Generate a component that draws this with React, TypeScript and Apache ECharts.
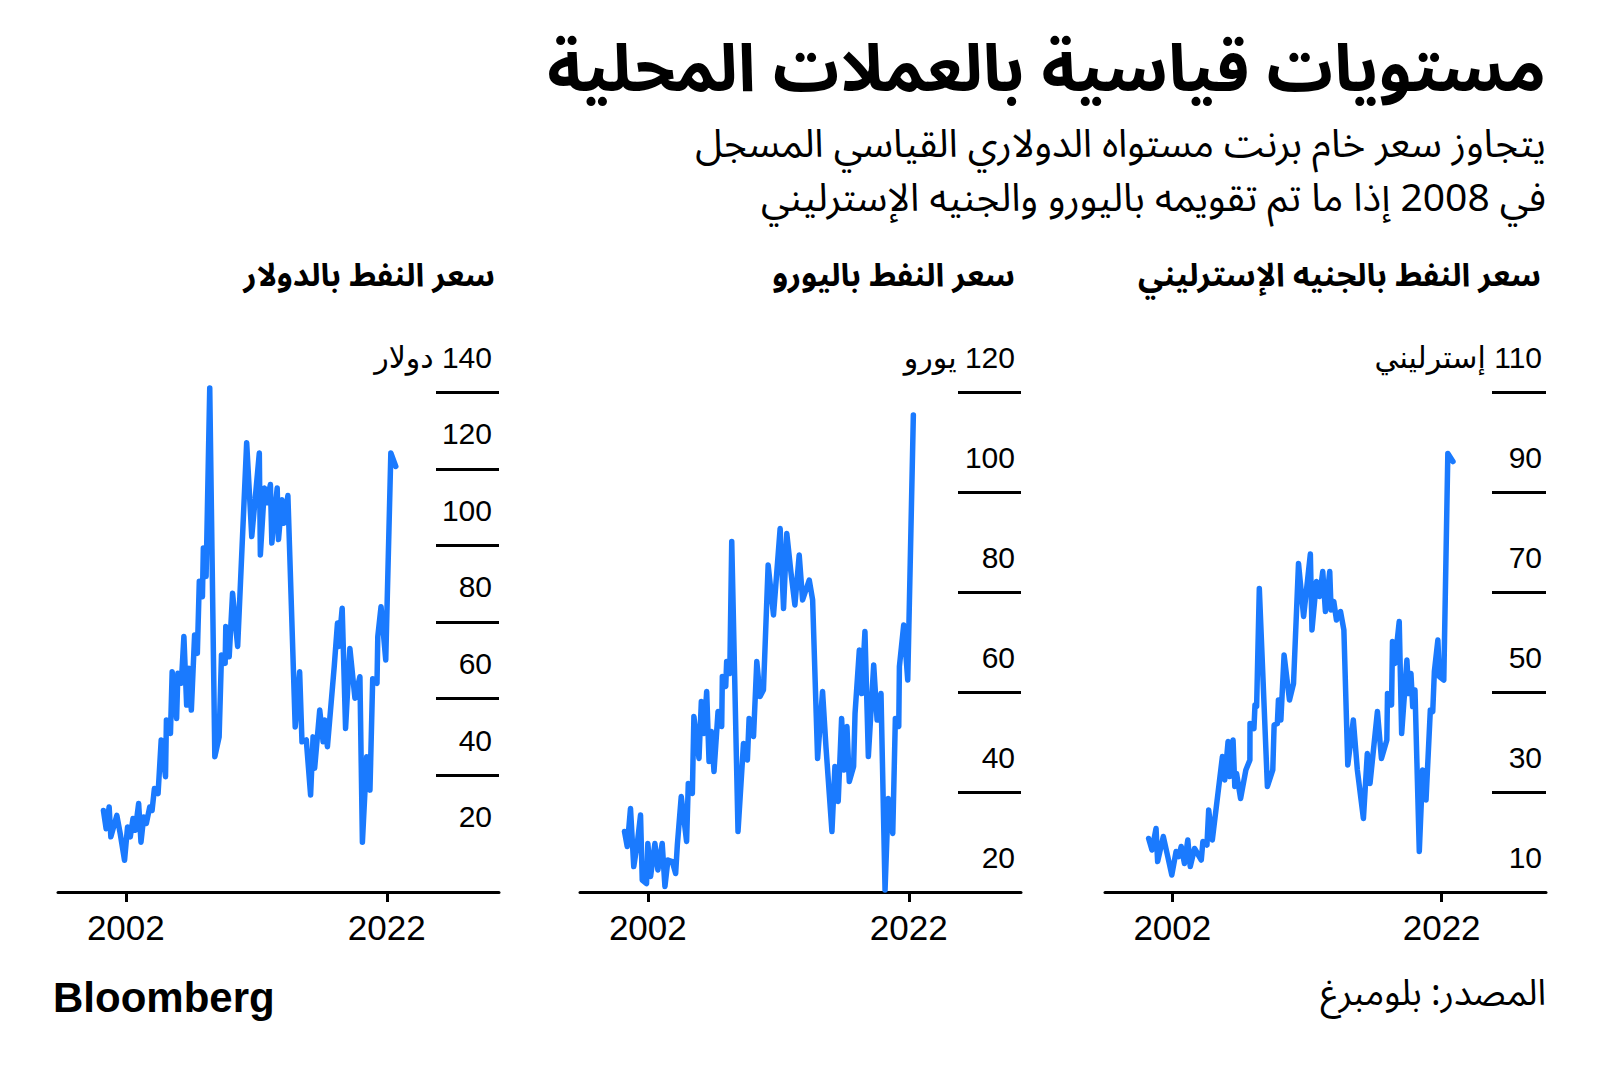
import React, { useEffect, useRef } from 'react';
import * as echarts from 'echarts';

// ---- Data ----
const usdYears = [2000.28, 2000.49, 2000.72, 2000.85, 2001.31, 2001.57, 2001.9, 2002.13, 2002.34, 2002.55, 2002.72, 2002.98, 2003.16, 2003.37, 2003.57, 2003.83, 2004.01, 2004.19, 2004.47, 2004.71, 2005.04, 2005.11, 2005.42, 2005.55, 2005.89, 2005.99, 2006.25, 2006.45, 2006.66, 2006.83, 2007.02, 2007.27, 2007.48, 2007.63, 2007.87, 2007.94, 2008.15, 2008.43, 2008.82, 2009.15, 2009.33, 2009.61, 2009.66, 2009.92, 2010.18, 2010.57, 2011.26, 2011.65, 2012.23, 2012.31, 2012.62, 2012.8, 2013.08, 2013.19, 2013.6, 2013.7, 2013.96, 2014.11, 2014.42, 2014.98, 2015.32, 2015.5, 2015.83, 2016.16, 2016.35, 2016.47, 2016.86, 2017.12, 2017.24, 2017.45, 2017.97, 2018.22, 2018.32, 2018.58, 2018.84, 2019.17, 2019.56, 2019.94, 2020.13, 2020.46, 2020.71, 2020.92, 2021.25, 2021.31, 2021.56, 2021.92, 2022.31, 2022.69];
const usdValues = [30.8, 26.0, 31.7, 23.9, 29.5, 24.7, 17.8, 26.5, 23.9, 28.7, 25.6, 32.6, 22.5, 29.1, 27.4, 31.7, 30.8, 36.5, 35.2, 49.2, 39.6, 54.4, 50.9, 67.0, 54.8, 66.6, 64.0, 76.2, 58.3, 67.9, 57.0, 76.6, 71.8, 90.6, 86.6, 99.3, 91.9, 141.1, 44.8, 50.0, 71.4, 69.2, 78.8, 70.9, 87.5, 73.6, 126.8, 102.3, 124.1, 97.5, 115.0, 111.1, 115.9, 100.6, 115.0, 101.5, 111.9, 105.8, 113.0, 52.6, 67.0, 48.7, 49.2, 34.8, 50.0, 41.8, 57.0, 48.7, 54.4, 47.4, 68.3, 79.7, 73.6, 83.6, 52.2, 73.1, 60.1, 65.7, 22.5, 44.8, 36.1, 65.2, 64.0, 76.2, 84.0, 70.1, 124.1, 120.6];

const eurYears = [2000.21, 2000.42, 2000.67, 2000.92, 2001.19, 2001.44, 2001.57, 2001.9, 2002.0, 2002.21, 2002.54, 2002.77, 2003.1, 2003.31, 2003.54, 2003.87, 2004.13, 2004.26, 2004.56, 2004.97, 2005.1, 2005.41, 2005.53, 2005.92, 2006.1, 2006.3, 2006.51, 2006.69, 2006.87, 2007.07, 2007.38, 2007.66, 2007.71, 2007.97, 2008.04, 2008.28, 2008.43, 2008.91, 2009.33, 2009.63, 2009.76, 2010.1, 2010.35, 2010.6, 2010.86, 2011.22, 2011.63, 2012.14, 2012.4, 2012.65, 2012.96, 2013.27, 2013.6, 2013.86, 2014.37, 2014.63, 2015.01, 2015.39, 2015.65, 2016.11, 2016.34, 2016.59, 2016.85, 2017.05, 2017.26, 2017.44, 2017.77, 2017.88, 2018.21, 2018.39, 2018.64, 2018.9, 2019.31, 2019.57, 2019.87, 2020.18, 2020.43, 2020.77, 2020.97, 2021.23, 2021.28, 2021.61, 2021.92, 2022.35];
const eurValues = [32.1, 29.1, 36.7, 25.1, 29.7, 35.4, 22.4, 21.7, 29.7, 23.1, 29.7, 24.4, 29.7, 21.1, 26.4, 26.1, 23.7, 29.4, 39.1, 30.1, 41.7, 39.7, 55.1, 46.7, 58.1, 51.7, 60.1, 46.1, 52.1, 44.1, 56.1, 53.1, 63.1, 61.1, 66.1, 63.7, 90.1, 32.1, 49.7, 46.4, 54.7, 51.1, 66.1, 59.1, 60.4, 85.4, 75.4, 92.7, 76.7, 91.7, 84.1, 77.4, 87.4, 78.4, 82.4, 78.4, 46.7, 60.1, 49.1, 32.1, 45.1, 38.1, 54.7, 44.4, 53.1, 42.1, 45.1, 55.7, 68.4, 59.7, 72.1, 47.1, 65.4, 54.4, 59.7, 20.4, 38.7, 31.7, 54.7, 53.1, 65.1, 73.4, 62.4, 115.4];

const gbpYears = [2000.24, 2000.49, 2000.79, 2000.91, 2001.33, 2001.66, 2001.96, 2002.28, 2002.48, 2002.66, 2002.9, 2003.15, 2003.33, 2003.65, 2004.15, 2004.27, 2004.57, 2004.7, 2004.97, 2005.72, 2005.89, 2006.14, 2006.27, 2006.51, 2006.64, 2006.77, 2007.07, 2007.46, 2007.76, 2007.77, 2008.06, 2008.14, 2008.26, 2008.46, 2009.06, 2009.46, 2009.56, 2009.8, 2009.88, 2010.06, 2010.3, 2010.7, 2011.0, 2011.37, 2011.75, 2012.25, 2012.37, 2012.7, 2012.94, 2013.17, 2013.37, 2013.69, 2013.79, 2013.99, 2014.19, 2014.49, 2014.74, 2015.03, 2015.44, 2015.74, 2016.19, 2016.48, 2016.68, 2017.23, 2017.53, 2017.93, 2017.98, 2018.28, 2018.35, 2018.52, 2018.85, 2019.03, 2019.42, 2019.55, 2019.72, 2019.85, 2020.02, 2020.34, 2020.59, 2020.84, 2021.16, 2021.34, 2021.46, 2021.72, 2021.83, 2022.16, 2022.46, 2022.84];
const gbpValues = [20.7, 18.4, 22.7, 16.1, 21.1, 17.1, 13.4, 18.1, 17.1, 19.1, 15.7, 20.4, 15.1, 18.7, 16.4, 20.1, 19.4, 26.4, 20.4, 37.1, 32.4, 40.1, 33.1, 40.4, 31.1, 33.7, 28.7, 34.4, 36.4, 43.7, 42.7, 47.4, 47.1, 70.7, 31.1, 34.4, 43.4, 43.7, 48.4, 44.4, 57.4, 48.4, 51.7, 75.7, 65.1, 77.6, 62.4, 72.1, 69.1, 74.1, 66.1, 74.1, 66.4, 68.1, 64.4, 66.1, 62.4, 35.4, 44.4, 34.4, 24.7, 37.7, 31.7, 46.1, 36.7, 40.4, 49.7, 47.4, 60.1, 55.7, 64.1, 41.7, 56.4, 49.7, 53.7, 47.1, 50.4, 18.1, 34.4, 28.4, 46.4, 46.1, 54.1, 60.4, 53.1, 52.4, 97.7, 96.1];

const usdTickLabels = [20, 40, 60, 80, 100, 120, 140];
const usdTickLines = [40, 60, 80, 100, 120, 140];
const eurTickLabels = [20, 40, 60, 80, 100, 120];
const eurTickLines = [40, 60, 80, 100, 120];
const gbpTickLabels = [10, 30, 50, 70, 90, 110];
const gbpTickLines = [30, 50, 70, 90, 110];
const yearLabels = [2002, 2022];

const titleText = 'مستويات قياسية بالعملات المحلية';
const subtitleLines = [
  'يتجاوز سعر خام برنت مستواه الدولاري القياسي المسجل',
  'في 2008 إذا ما تم تقويمه باليورو والجنيه الإسترليني',
];
const panelTitles = ['سعر النفط بالدولار', 'سعر النفط باليورو', 'سعر النفط بالجنيه الإسترليني'];
const unitWords = ['دولار', 'يورو', 'إسترليني'];
const sourceText = 'المصدر: بلومبرغ';

const BLUE = '#1a7afe';
const NUM_FONT = '"Liberation Sans", "DejaVu Sans", sans-serif';
const AR_FONT = '"Noto Sans Arabic", "DejaVu Sans", sans-serif';

function zip(xs: number[], ys: number[]) {
  return xs.map((x, i) => [x, ys[i]]);
}

export default function App() {
  const ref = useRef<HTMLDivElement>(null);

  useEffect(() => {
    if (!ref.current) return;
    const chart = echarts.init(ref.current, null, { renderer: 'svg' });

    const panels = [
      { left: 58, width: 441, top: 373, min: 9.5, max: 145, xmin: 1996.8, xmax: 2030.6, labels: usdTickLabels, lines: usdTickLines, tickLen: 63, labelMargin: 7, unit: unitWords[0], data: zip(usdYears, usdValues) },
      { left: 580, width: 441, top: 392, min: 20, max: 120, xmin: 1996.8, xmax: 2030.6, labels: eurTickLabels, lines: eurTickLines, tickLen: 63, labelMargin: 6, unit: unitWords[1], data: zip(eurYears, eurValues) },
      { left: 1105, width: 441, top: 392, min: 10, max: 110, xmin: 1997.0, xmax: 2029.75, labels: gbpTickLabels, lines: gbpTickLines, tickLen: 54, labelMargin: 4, unit: unitWords[2], data: zip(gbpYears, gbpValues) },
    ];
    const bottomY = 892;

    const grid = panels.map((p) => ({
      left: p.left,
      top: p.top,
      width: p.width,
      height: bottomY - p.top,
      containLabel: false,
    }));

    const xAxis = panels.map((p, i) => ({
      type: 'value',
      gridIndex: i,
      min: p.xmin,
      max: p.xmax,
      splitLine: { show: false },
      axisLine: { show: true, onZero: false, lineStyle: { color: '#000', width: 3 } },
      axisTick: { show: true, customValues: yearLabels, length: 10, lineStyle: { color: '#000', width: 3 } },
      axisLabel: {
        show: true,
        customValues: yearLabels,
        formatter: (v: number) => String(v),
        fontSize: 35,
        fontFamily: NUM_FONT,
        color: '#000',
        margin: 18,
      },
    }));

    const yAxis = panels.map((p, i) => {
      const top = p.labels[p.labels.length - 1];
      return {
        type: 'value',
        gridIndex: i,
        position: 'right',
        min: p.min,
        max: p.max,
        splitLine: { show: false },
        axisLine: { show: false },
        axisTick: { show: true, inside: true, length: p.tickLen, customValues: p.lines, lineStyle: { color: '#000', width: 3 } },
        axisLabel: {
          show: true,
          inside: true,
          customValues: p.labels,
          margin: p.labelMargin,
          align: 'right',
          verticalAlign: 'bottom',
          lineHeight: 70,
          fontSize: 30,
          fontFamily: NUM_FONT,
          color: '#000',
          formatter: (v: number) => (v === top ? '\u200F' + v + ' ' + p.unit : String(v)),
        },
      };
    });

    const series = panels.map((p, i) => ({
      type: 'line',
      xAxisIndex: i,
      yAxisIndex: i,
      data: p.data,
      showSymbol: false,
      symbol: 'none',
      clip: false,
      lineStyle: { color: BLUE, width: 5.5, cap: 'round', join: 'round' },
    }));

    const textEl = (text: string, x: number, y: number, size: number, weight: string, align: string, family: string, lh?: number) => ({
      type: 'text',
      x,
      y,
      style: {
        text,
        fill: '#000',
        fontSize: size,
        fontWeight: weight,
        fontFamily: family,
        lineHeight: lh || size,
        textAlign: align,
        align,
        textVerticalAlign: 'middle',
        verticalAlign: 'middle',
      },
    });

    const graphic = [
      textEl(titleText, 1546, 70, 66, 'bold', 'right', AR_FONT, 60),
      textEl(subtitleLines[0], 1546, 144, 39, 'normal', 'right', AR_FONT, 40),
      textEl(subtitleLines[1], 1546, 198, 39, 'normal', 'right', AR_FONT, 40),
      textEl(panelTitles[0], 495, 276, 32, 'bold', 'right', AR_FONT),
      textEl(panelTitles[1], 1015, 276, 32, 'bold', 'right', AR_FONT),
      textEl(panelTitles[2], 1541, 276, 32, 'bold', 'right', AR_FONT),
      textEl('Bloomberg', 53, 997, 42, '900', 'left', NUM_FONT),
      textEl(sourceText, 1546, 994, 36, 'normal', 'right', AR_FONT),
    ];

    chart.setOption({
      animation: false,
      backgroundColor: '#fff',
      grid,
      xAxis,
      yAxis,
      series,
      graphic,
    });

    return () => chart.dispose();
  }, []);

  return (
    <div
      ref={ref}
      style={{ position: 'absolute', left: 0, top: 0, width: 1600, height: 1075, background: '#fff' }}
    />
  );
}
